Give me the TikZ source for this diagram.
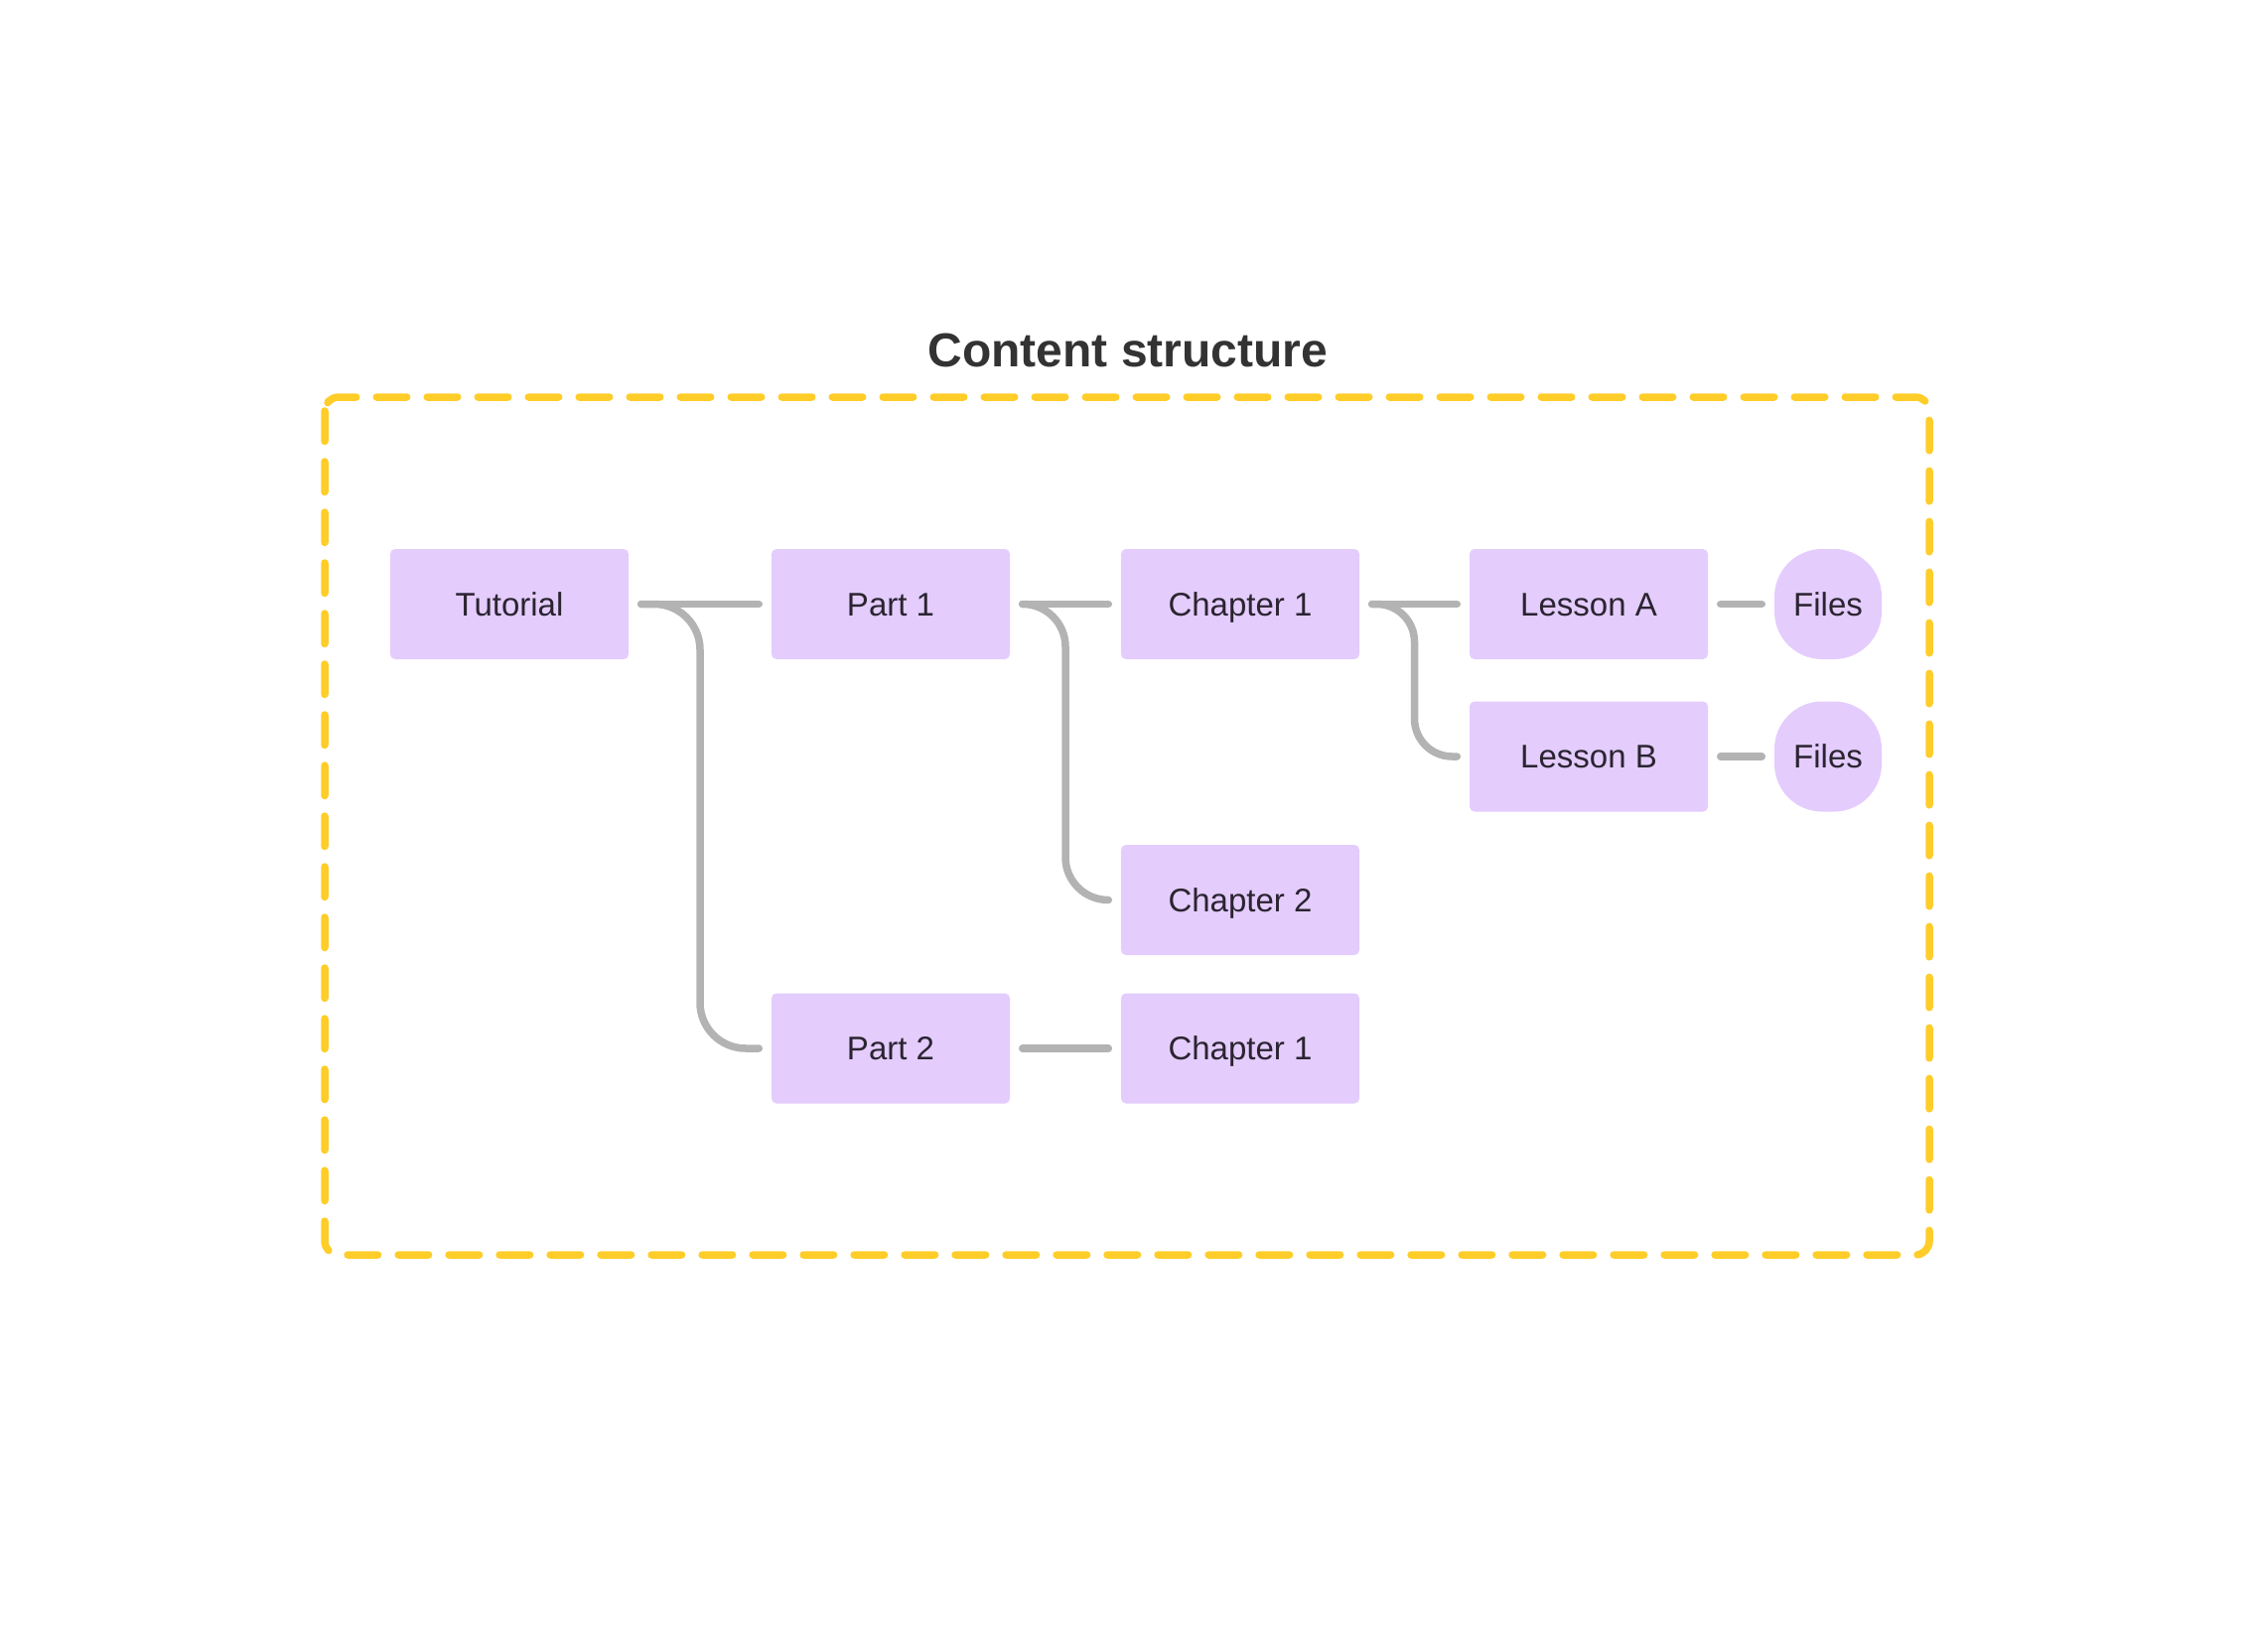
\documentclass[tikz,border=0pt]{standalone}
\usepackage{fontspec}
\setmainfont{Liberation Sans}
\usetikzlibrary{calc}
\definecolor{nodefill}{HTML}{E4CCFD}
\definecolor{txtc}{HTML}{2A2430}
\definecolor{connc}{HTML}{B3B3B3}
\definecolor{ylw}{HTML}{FFCD29}
\definecolor{ttl}{HTML}{333333}
\begin{document}
\begin{tikzpicture}[x=1pt,y=-1pt,
  box/.style={fill=nodefill, rounded corners=5pt, minimum width=240pt, minimum height=111pt, inner sep=0pt, text=txtc, font=\fontsize{33}{40}\selectfont, text height=23.6pt, text depth=0pt},
  pill/.style={box, minimum width=108pt, rounded corners=48pt},
  link/.style={draw=connc, line width=7.5pt, line cap=round, line join=round},
  frame/.style={draw=ylw, line width=7.5pt, line cap=round, dash pattern=on 30.5pt off 20.5pt, rounded corners=14pt}
  ]
\useasboundingbox (0,0) rectangle (2272,1664);
\node[font=\bfseries\fontsize{48}{58}\selectfont, text=ttl, text height=34.5pt, text depth=0pt, inner sep=0pt] (title) at (1136,352) {Content structure};
\draw[frame] (327,400) rectangle (1943,1264);

\node[box] (tut) at (513,608.5) {Tutorial};
\node[box] (p1) at (897,608.5) {Part 1};
\node[box] (c1) at (1249,608.5) {Chapter 1};
\node[box] (la) at (1600,608.5) {Lesson A};
\node[pill] (fa) at (1841,608.5) {Files};
\node[box] (lb) at (1600,762) {Lesson B};
\node[pill] (fb) at (1841,762) {Files};
\node[box] (c2) at (1249,906.5) {Chapter 2};
\node[box] (p2) at (897,1056) {Part 2};
\node[box] (c3) at (1249,1056) {Chapter 1};

\coordinate (m1) at ($(tut.east)!0.5!(p1.west)$);
\coordinate (m2) at ($(p1.east)!0.5!(c1.west)$);
\coordinate (m3) at ($(c1.east)!0.5!(la.west)$);

\def\gp{12.5}
\draw[link] ($(tut.east)+(\gp,0)$) -- ($(p1.west)-(\gp,0)$);
\draw[link, rounded corners=46pt] ($(tut.east)+(\gp,0)$) -| (m1 |- p2.west) -- ($(p2.west)-(\gp,0)$);

\draw[link] ($(p1.east)+(\gp,0)$) -- ($(c1.west)-(\gp,0)$);
\draw[link, rounded corners=43pt] ($(p1.east)+(\gp,0)$) -| (m2 |- c2.west) -- ($(c2.west)-(\gp,0)$);

\draw[link] ($(c1.east)+(\gp,0)$) -- ($(la.west)-(\gp,0)$);
\draw[link, rounded corners=38pt] ($(c1.east)+(\gp,0)$) -| (m3 |- lb.west) -- ($(lb.west)-(\gp,0)$);

\draw[link] ($(la.east)+(\gp,0)$) -- ($(fa.west)-(\gp,0)$);
\draw[link] ($(lb.east)+(\gp,0)$) -- ($(fb.west)-(\gp,0)$);
\draw[link] ($(p2.east)+(\gp,0)$) -- ($(c3.west)-(\gp,0)$);
\end{tikzpicture}
\end{document}
